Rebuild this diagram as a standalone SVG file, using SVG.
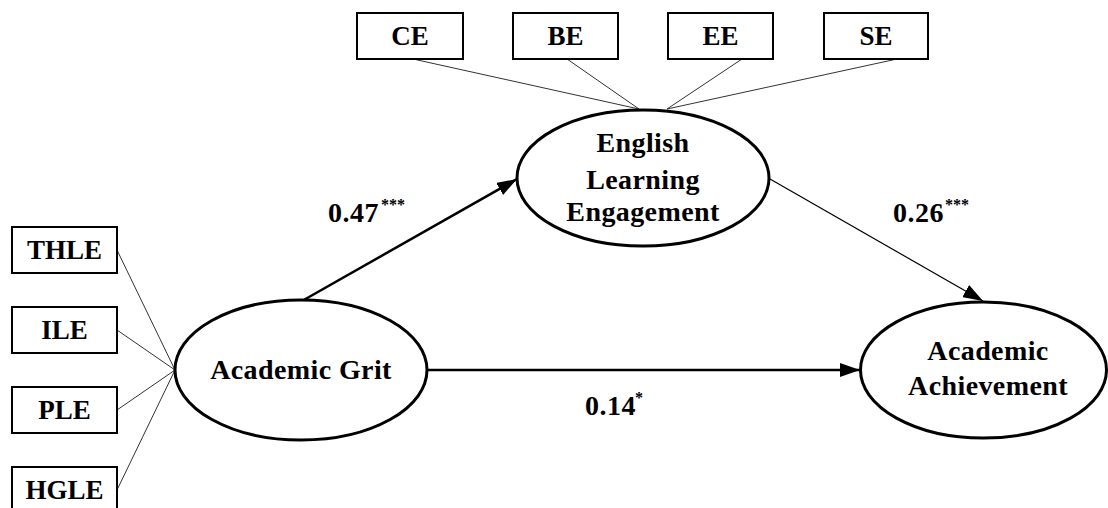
<svg xmlns="http://www.w3.org/2000/svg" width="1108" height="508" viewBox="0 0 1108 508">
  <defs>
    <style>
      text { font-family: "Liberation Serif", "Times New Roman", serif; font-weight: bold; fill: #000; }
      .lbl { font-size: 27px; text-anchor: middle; }
      .lat { font-size: 28px; text-anchor: middle; letter-spacing: 0.4px; }
      .coef { font-size: 28px; letter-spacing: 0.5px; }
      .sig { font-size: 16px; }
      .box { fill: #fff; stroke: #000; stroke-width: 2; }
      .ell { fill: #fff; stroke: #000; stroke-width: 3; }
      .load { stroke: #333; stroke-width: 1; fill: none; }
      .path { stroke: #000; fill: none; }
    </style>
    <marker id="arr" viewBox="0 0 20 14" refX="20" refY="7" markerWidth="20" markerHeight="14" markerUnits="userSpaceOnUse" orient="auto">
      <path d="M0,0 L20,7 L0,14 Z" fill="#000"/>
    </marker>
  </defs>
  <rect width="1108" height="508" fill="#fff"/>

  <g id="connectors">
    <line class="load" x1="117" y1="250" x2="175" y2="370"/>
    <line class="load" x1="117" y1="330" x2="175" y2="370"/>
    <line class="load" x1="117" y1="410" x2="175" y2="370"/>
    <line class="load" x1="117" y1="490" x2="175" y2="370"/>
    <line class="load" x1="413" y1="59" x2="639" y2="109"/>
    <line class="load" x1="567" y1="59" x2="639" y2="109"/>
    <line class="load" x1="742" y1="59" x2="667" y2="109"/>
    <line class="load" x1="897" y1="59" x2="667" y2="109"/>
    <line class="path" stroke-width="2.5" x1="302" y1="301" x2="517" y2="179" marker-end="url(#arr)"/>
    <line class="path" stroke-width="1.2" x1="770" y1="179" x2="983" y2="301" marker-end="url(#arr)"/>
    <line class="path" stroke-width="2.5" x1="427" y1="370" x2="860" y2="370" marker-end="url(#arr)"/>
  </g>

  <g id="labels">
    <text class="coef" x="328" y="222">0.47</text>
    <text class="sig" x="381" y="210">***</text>
    <text class="coef" x="893" y="222">0.26</text>
    <text class="sig" x="945" y="210">***</text>
    <text class="coef" x="585" y="415">0.14</text>
    <text class="sig" x="635" y="403">*</text>
  </g>

  <g id="THLE"><rect class="box" x="12" y="227" width="105" height="46"/><text class="lbl" x="64.5" y="259">THLE</text></g>
  <g id="ILE"><rect class="box" x="12" y="307" width="105" height="46"/><text class="lbl" x="64.5" y="339">ILE</text></g>
  <g id="PLE"><rect class="box" x="12" y="387" width="105" height="46"/><text class="lbl" x="64.5" y="419">PLE</text></g>
  <g id="HGLE"><rect class="box" x="12" y="467" width="105" height="46"/><text class="lbl" x="64.5" y="499">HGLE</text></g>

  <g id="CE"><rect class="box" x="357" y="13" width="106" height="46"/><text class="lbl" x="410" y="45">CE</text></g>
  <g id="BE"><rect class="box" x="513" y="13" width="105" height="46"/><text class="lbl" x="565.5" y="45">BE</text></g>
  <g id="EE"><rect class="box" x="668" y="13" width="105" height="46"/><text class="lbl" x="720.5" y="45">EE</text></g>
  <g id="SE"><rect class="box" x="824" y="13" width="104" height="46"/><text class="lbl" x="876" y="45">SE</text></g>

  <g id="AcademicGrit">
    <ellipse class="ell" cx="301" cy="370" rx="126" ry="70"/>
    <text class="lat" x="301" y="379">Academic Grit</text>
  </g>
  <g id="EnglishLearningEngagement">
    <ellipse class="ell" cx="643" cy="178" rx="126" ry="68"/>
    <text class="lat" x="643" y="152">English</text>
    <text class="lat" x="643" y="189">Learning</text>
    <text class="lat" x="643" y="221">Engagement</text>
  </g>
  <g id="AcademicAchievement">
    <ellipse class="ell" cx="983.5" cy="370" rx="123" ry="68"/>
    <text class="lat" x="988" y="360">Academic</text>
    <text class="lat" x="988" y="395">Achievement</text>
  </g>
</svg>
